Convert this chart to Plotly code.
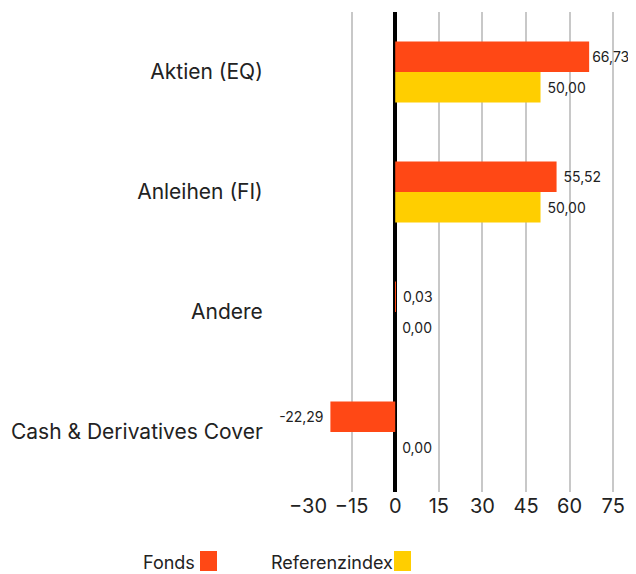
import plotly.graph_objects as go

categories = ["Aktien (EQ)", "Anleihen (FI)", "Andere", "Cash & Derivatives Cover"]
fonds = [66.73, 55.52, 0.03, -22.29]
referenz = [50.00, 50.00, 0.00, 0.00]
x_ticks = [-30, -15, 0, 15, 30, 45, 60, 75]
grid_ticks = [-15, 0, 15, 30, 45, 60, 75]
series_names = ["Fonds", "Referenzindex"]
colors = ["#FF4815", "#FFCE00"]

FONT = "Inter"
TEXT_COLOR = "#222222"

# page body has an 8px margin, so the figure is sized to fit the window
W, H = 628, 566
L, R, T, B = 300, 17, 4, 82
OFF = 8
X_MAX = 77

fig = go.Figure()
for name, vals, col in zip(series_names, [fonds, referenz], colors):
    templates = []
    for v in vals:
        if v < 0:
            templates.append("%{x:.2f}\u00a0")
        elif v > 0.85 * X_MAX:
            templates.append("%{x:.2f}")  # keep the widest label inside the window
        else:
            templates.append("\u00a0%{x:.2f}")
    fig.add_trace(go.Bar(
        y=categories, x=vals, name=name, orientation="h",
        marker=dict(color=col, line=dict(width=0)),
        texttemplate=templates, textposition="outside",
        textfont=dict(family=FONT, size=14, color=TEXT_COLOR),
        cliponaxis=False, showlegend=False,
    ))

fig.update_layout(
    width=W, height=H,
    margin=dict(l=L, r=R, t=T, b=B),
    paper_bgcolor="white", plot_bgcolor="white",
    barmode="group", bargap=0.49, bargroupgap=0,
    separators=",.",
    font=dict(family=FONT, color=TEXT_COLOR),
    xaxis=dict(
        range=[-30, X_MAX], tickvals=x_ticks, showgrid=False,
        zeroline=True, zerolinecolor="black", zerolinewidth=4,
        tickfont=dict(size=20, color=TEXT_COLOR),
        minor=dict(tickvals=grid_ticks, showgrid=True, gridcolor="#C8C8C8", gridwidth=2, ticks=""),
        showline=False, fixedrange=True, automargin=False,
    ),
    yaxis=dict(
        autorange="reversed", showgrid=False,
        ticks="outside", ticklen=40, tickcolor="rgba(0,0,0,0)",
        tickfont=dict(size=21, color=TEXT_COLOR),
        showline=False, automargin=False,
    ),
)

plot_w = W - L - R
plot_h = H - T - B


def px_x(p):
    return (p - OFF - L) / plot_w


def px_y(p):
    return (H - B - (p - OFF)) / plot_h


# legend: label followed by a colour swatch
legend_pos = [(143, 200), (271, 394)]
for name, (tx, sx), col in zip(series_names, legend_pos, colors):
    fig.add_annotation(text=name, x=px_x(tx), y=px_y(562), xref="paper", yref="paper",
                       xanchor="left", yanchor="middle", showarrow=False, xshift=-2,
                       font=dict(family=FONT, size=18, color=TEXT_COLOR))
    fig.add_shape(type="rect", xref="paper", yref="paper",
                  x0=px_x(sx), x1=px_x(sx + 17), y0=px_y(571), y1=px_y(551),
                  fillcolor=col, line=dict(width=0))

fig.write_html("out.html")
